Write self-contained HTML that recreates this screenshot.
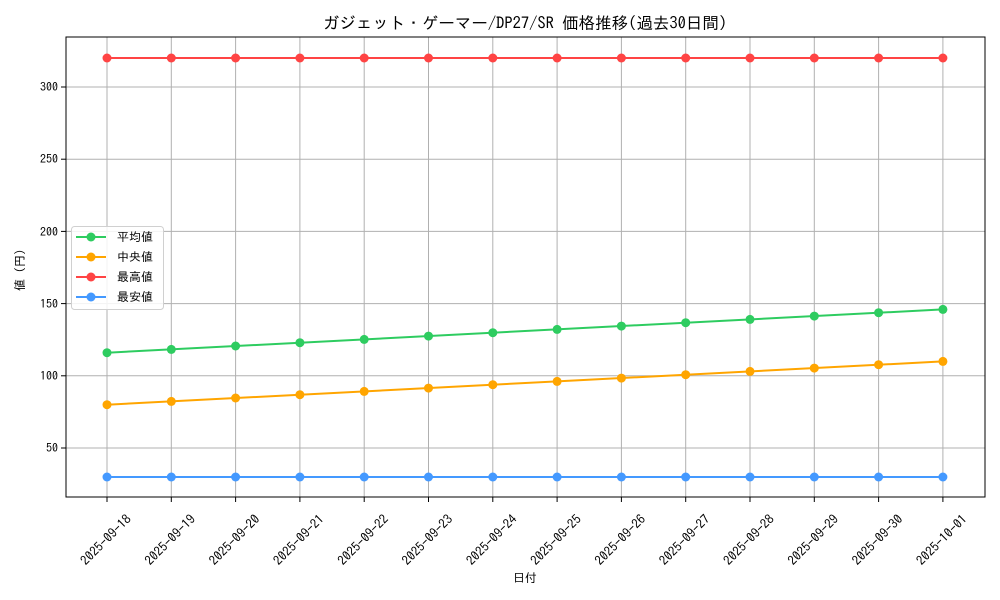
<!DOCTYPE html>
<html><head><meta charset="utf-8"><style>body{margin:0;background:#fff}svg{display:block}text{font-family:"IPAGothic","Noto Sans CJK JP",sans-serif;fill:#000}</style></head><body>
<svg width="1000" height="600" xmlns="http://www.w3.org/2000/svg">
<text x="525" y="29" font-size="16.5" text-anchor="middle">ガジェット・ゲーマー/DP27/SR 価格推移(過去30日間)</text>
<g stroke="#b0b0b0" stroke-width="1">
<line x1="107" y1="37" x2="107" y2="497"/><line x1="171.3" y1="37" x2="171.3" y2="497"/><line x1="235.6" y1="37" x2="235.6" y2="497"/><line x1="299.9" y1="37" x2="299.9" y2="497"/><line x1="364.2" y1="37" x2="364.2" y2="497"/><line x1="428.5" y1="37" x2="428.5" y2="497"/><line x1="492.8" y1="37" x2="492.8" y2="497"/><line x1="557.1" y1="37" x2="557.1" y2="497"/><line x1="621.4" y1="37" x2="621.4" y2="497"/><line x1="685.7" y1="37" x2="685.7" y2="497"/><line x1="750" y1="37" x2="750" y2="497"/><line x1="814.3" y1="37" x2="814.3" y2="497"/><line x1="878.6" y1="37" x2="878.6" y2="497"/><line x1="942.9" y1="37" x2="942.9" y2="497"/>
<line x1="66" y1="448" x2="985" y2="448"/><line x1="66" y1="375.8" x2="985" y2="375.8"/><line x1="66" y1="303.6" x2="985" y2="303.6"/><line x1="66" y1="231.4" x2="985" y2="231.4"/><line x1="66" y1="159.2" x2="985" y2="159.2"/><line x1="66" y1="87" x2="985" y2="87"/>
</g>
<rect x="66" y="37" width="919" height="460" fill="none" stroke="#000" stroke-width="1"/>
<g stroke="#000"><line x1="61" y1="448" x2="66" y2="448"/><line x1="61" y1="375.8" x2="66" y2="375.8"/><line x1="61" y1="303.6" x2="66" y2="303.6"/><line x1="61" y1="231.4" x2="66" y2="231.4"/><line x1="61" y1="159.2" x2="66" y2="159.2"/><line x1="61" y1="87" x2="66" y2="87"/></g>
<g font-size="12" text-anchor="end"><text x="58" y="452">50</text><text x="58" y="380">100</text><text x="58" y="308">150</text><text x="58" y="236">200</text><text x="58" y="163">250</text><text x="58" y="91">300</text></g>
<text transform="translate(24,270) rotate(-90)" font-size="12" text-anchor="middle">値 (円)</text>
<text x="525" y="582" font-size="12" text-anchor="middle">日付</text>
<g font-size="13" text-anchor="middle">
<text transform="translate(109,543) rotate(-45)">2025-09-18</text>
<text transform="translate(173.3,543) rotate(-45)">2025-09-19</text>
<text transform="translate(237.6,543) rotate(-45)">2025-09-20</text>
<text transform="translate(301.9,543) rotate(-45)">2025-09-21</text>
<text transform="translate(366.2,543) rotate(-45)">2025-09-22</text>
<text transform="translate(430.5,543) rotate(-45)">2025-09-23</text>
<text transform="translate(494.8,543) rotate(-45)">2025-09-24</text>
<text transform="translate(559.1,543) rotate(-45)">2025-09-25</text>
<text transform="translate(623.4,543) rotate(-45)">2025-09-26</text>
<text transform="translate(687.7,543) rotate(-45)">2025-09-27</text>
<text transform="translate(752,543) rotate(-45)">2025-09-28</text>
<text transform="translate(816.3,543) rotate(-45)">2025-09-29</text>
<text transform="translate(880.6,543) rotate(-45)">2025-09-30</text>
<text transform="translate(944.9,543) rotate(-45)">2025-10-01</text>
</g>
<g stroke="#000"><line x1="107" y1="497" x2="107" y2="502"/><line x1="171.3" y1="497" x2="171.3" y2="502"/><line x1="235.6" y1="497" x2="235.6" y2="502"/><line x1="299.9" y1="497" x2="299.9" y2="502"/><line x1="364.2" y1="497" x2="364.2" y2="502"/><line x1="428.5" y1="497" x2="428.5" y2="502"/><line x1="492.8" y1="497" x2="492.8" y2="502"/><line x1="557.1" y1="497" x2="557.1" y2="502"/><line x1="621.4" y1="497" x2="621.4" y2="502"/><line x1="685.7" y1="497" x2="685.7" y2="502"/><line x1="750" y1="497" x2="750" y2="502"/><line x1="814.3" y1="497" x2="814.3" y2="502"/><line x1="878.6" y1="497" x2="878.6" y2="502"/><line x1="942.9" y1="497" x2="942.9" y2="502"/></g>
<defs>
<g id="xs"><circle cx="107" r="4.5"/><circle cx="171.3" r="4.5"/><circle cx="235.6" r="4.5"/><circle cx="299.9" r="4.5"/><circle cx="364.2" r="4.5"/><circle cx="428.5" r="4.5"/><circle cx="492.8" r="4.5"/><circle cx="557.1" r="4.5"/><circle cx="621.4" r="4.5"/><circle cx="685.7" r="4.5"/><circle cx="750" r="4.5"/><circle cx="814.3" r="4.5"/><circle cx="878.6" r="4.5"/><circle cx="942.9" r="4.5"/></g>
</defs>
<line x1="107" y1="58" x2="942.9" y2="58" stroke="#ff4444" stroke-width="2"/>
<use href="#xs" y="58" fill="#ff4444"/>
<line x1="107" y1="477" x2="942.9" y2="477" stroke="#4499ff" stroke-width="2"/>
<use href="#xs" y="477" fill="#4499ff"/>
<line x1="107" y1="352.7" x2="942.9" y2="309.4" stroke="#2ecc60" stroke-width="2"/>
<g fill="#2ecc60"><circle cx="107" cy="352.7" r="4.5"/><circle cx="171.3" cy="349.4" r="4.5"/><circle cx="235.6" cy="346.0" r="4.5"/><circle cx="299.9" cy="342.7" r="4.5"/><circle cx="364.2" cy="339.4" r="4.5"/><circle cx="428.5" cy="336.1" r="4.5"/><circle cx="492.8" cy="332.7" r="4.5"/><circle cx="557.1" cy="329.4" r="4.5"/><circle cx="621.4" cy="326.1" r="4.5"/><circle cx="685.7" cy="322.7" r="4.5"/><circle cx="750" cy="319.4" r="4.5"/><circle cx="814.3" cy="316.1" r="4.5"/><circle cx="878.6" cy="312.7" r="4.5"/><circle cx="942.9" cy="309.4" r="4.5"/></g>
<line x1="107" y1="404.7" x2="942.9" y2="361.4" stroke="#ffa500" stroke-width="2"/>
<g fill="#ffa500"><circle cx="107" cy="404.7" r="4.5"/><circle cx="171.3" cy="401.4" r="4.5"/><circle cx="235.6" cy="398.0" r="4.5"/><circle cx="299.9" cy="394.7" r="4.5"/><circle cx="364.2" cy="391.4" r="4.5"/><circle cx="428.5" cy="388.1" r="4.5"/><circle cx="492.8" cy="384.7" r="4.5"/><circle cx="557.1" cy="381.4" r="4.5"/><circle cx="621.4" cy="378.1" r="4.5"/><circle cx="685.7" cy="374.7" r="4.5"/><circle cx="750" cy="371.4" r="4.5"/><circle cx="814.3" cy="368.1" r="4.5"/><circle cx="878.6" cy="364.7" r="4.5"/><circle cx="942.9" cy="361.4" r="4.5"/></g>
<rect x="71.5" y="226.5" width="92" height="83" rx="3" fill="#fff" fill-opacity="0.85" stroke="#d0d0d0"/>
<g stroke-width="2">
<line x1="76" y1="237" x2="106" y2="237" stroke="#2ecc60"/><circle cx="91" cy="237" r="4.5" fill="#2ecc60"/>
<line x1="76" y1="257" x2="106" y2="257" stroke="#ffa500"/><circle cx="91" cy="257" r="4.5" fill="#ffa500"/>
<line x1="76" y1="277" x2="106" y2="277" stroke="#ff4444"/><circle cx="91" cy="277" r="4.5" fill="#ff4444"/>
<line x1="76" y1="297" x2="106" y2="297" stroke="#4499ff"/><circle cx="91" cy="297" r="4.5" fill="#4499ff"/>
</g>
<g font-size="12"><text x="117" y="241">平均値</text><text x="117" y="261">中央値</text><text x="117" y="281">最高値</text><text x="117" y="301">最安値</text></g>
</svg>
</body></html>
